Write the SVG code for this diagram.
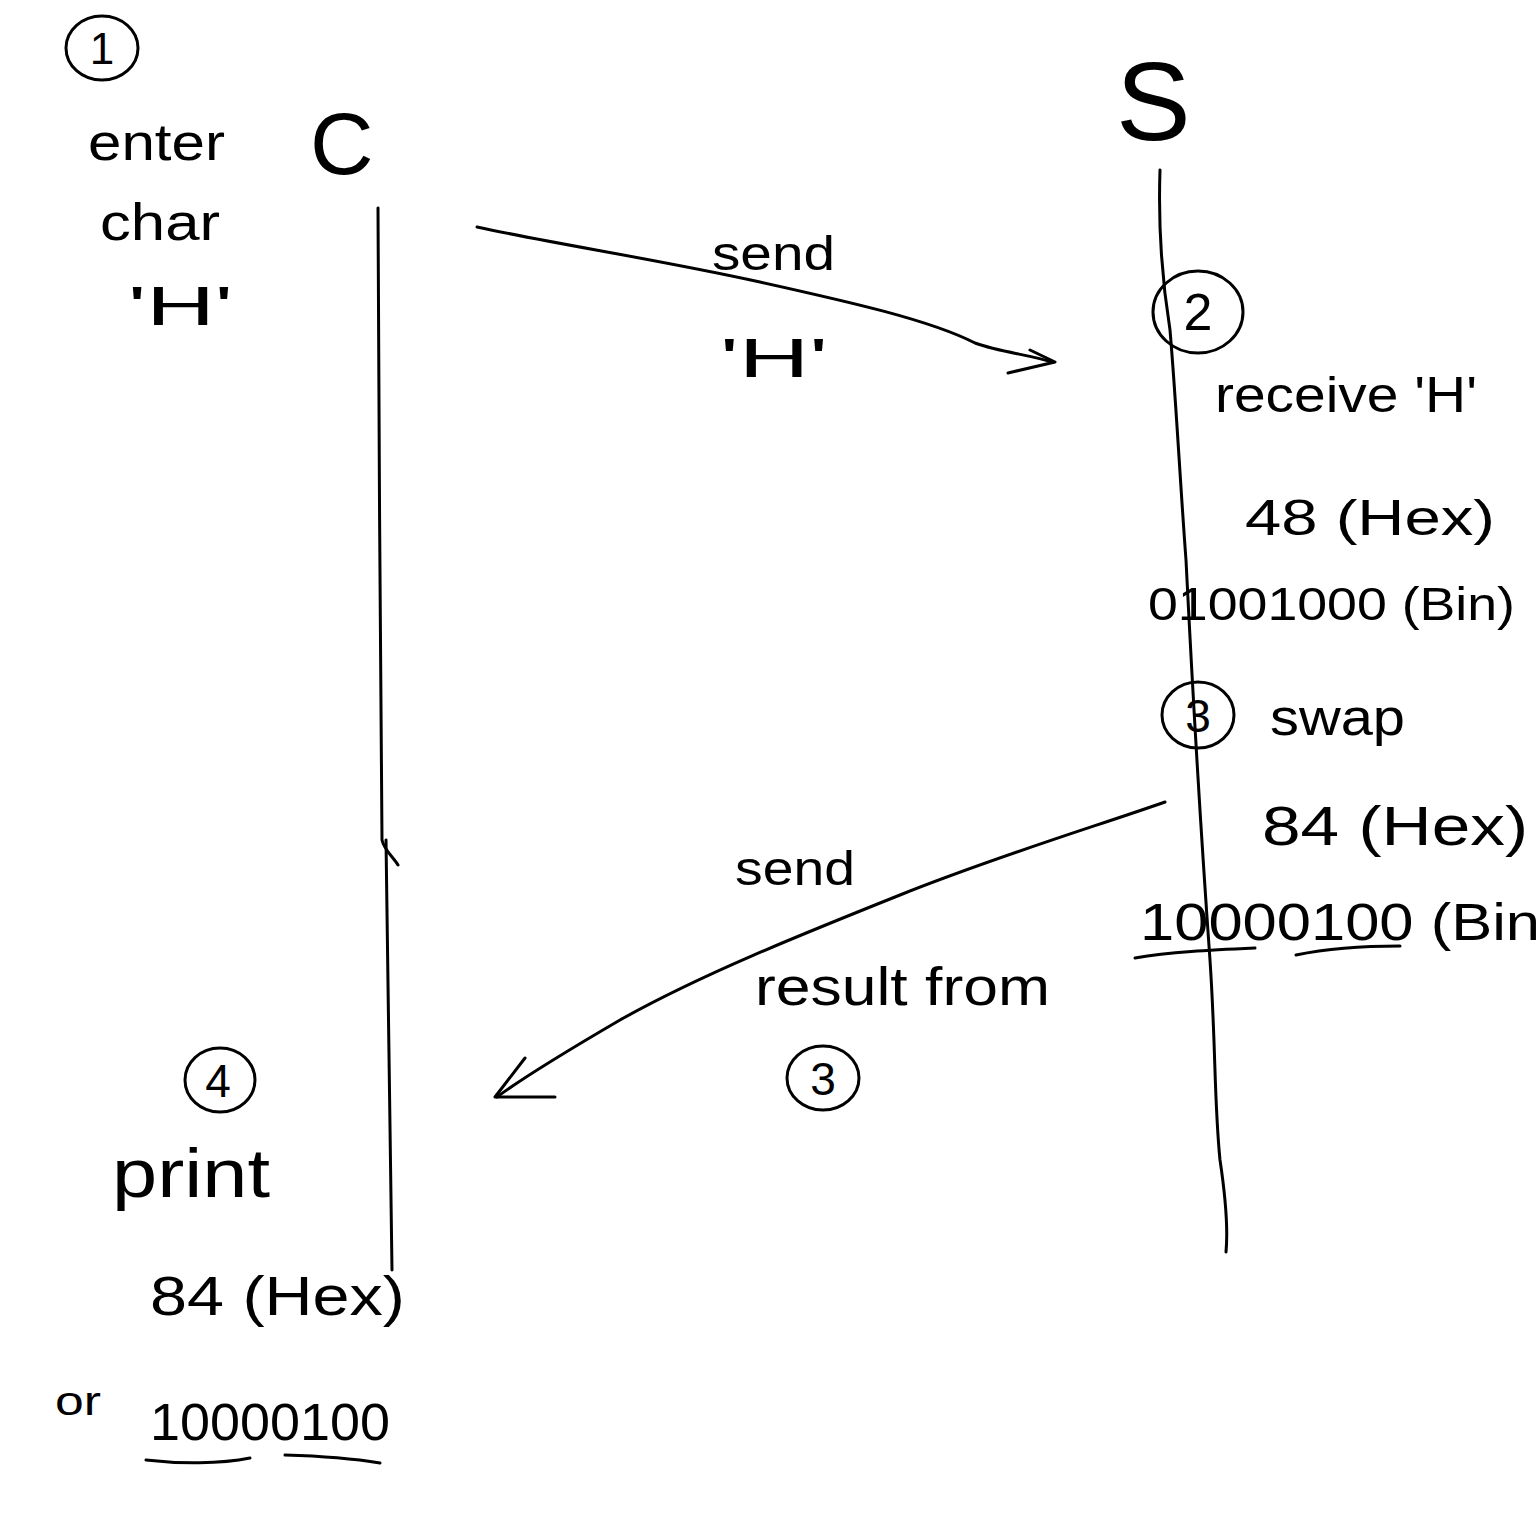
<svg xmlns="http://www.w3.org/2000/svg" width="1536" height="1528" viewBox="0 0 1536 1528">
<style>
.t{font-family:"Liberation Sans","DejaVu Sans",Arial,sans-serif;fill:#000;}
.s{fill:none;stroke:#000;stroke-width:3;stroke-linecap:round;stroke-linejoin:round;}
</style>
<rect width="1536" height="1528" fill="#fff"/>

<g id="step1">
  <ellipse class="s" cx="102" cy="48" rx="36" ry="32"/>
  <text class="t" x="102" y="64" font-size="44" text-anchor="middle">1</text>
  <text class="t" x="88" y="160" font-size="52" textLength="137" lengthAdjust="spacingAndGlyphs">enter</text>
  <text class="t" x="100" y="240" font-size="52" textLength="120" lengthAdjust="spacingAndGlyphs">char</text>
  <text class="t" x="128" y="325" font-size="56" textLength="105" lengthAdjust="spacingAndGlyphs">'H'</text>
</g>

<g id="client">
  <text class="t" x="310" y="174" font-size="88">C</text>
  <path class="s" d="M378,208 C379,400 380,650 382,840 C384,850 394,858 398,865"/>
  <path class="s" d="M386,840 C388,950 390,1100 392,1270"/>
</g>

<g id="server">
  <text class="t" x="1116" y="140" font-size="112">S</text>
  <path class="s" d="M1160,170 C1158,230 1162,280 1170,330 C1176,400 1180,480 1186,560 C1192,680 1200,820 1210,960 C1216,1050 1214,1100 1220,1160 C1226,1200 1228,1230 1226,1252"/>
</g>

<g id="step2">
  <ellipse class="s" cx="1198" cy="312" rx="45" ry="41"/>
  <text class="t" x="1198" y="330" font-size="52" text-anchor="middle">2</text>
  <text class="t" x="1215" y="412" font-size="50" textLength="262" lengthAdjust="spacingAndGlyphs">receive 'H'</text>
  <text class="t" x="1245" y="535" font-size="50" textLength="250" lengthAdjust="spacingAndGlyphs">48 (Hex)</text>
  <text class="t" x="1148" y="620" font-size="46" textLength="367" lengthAdjust="spacingAndGlyphs">01001000 (Bin)</text>
</g>

<g id="step3">
  <ellipse class="s" cx="1198" cy="715" rx="36" ry="33"/>
  <text class="t" x="1198" y="732" font-size="46" text-anchor="middle">3</text>
  <text class="t" x="1270" y="735" font-size="52" textLength="135" lengthAdjust="spacingAndGlyphs">swap</text>
  <text class="t" x="1262" y="845" font-size="56" textLength="266" lengthAdjust="spacingAndGlyphs">84 (Hex)</text>
  <text class="t" x="1140" y="940" font-size="52" textLength="400" lengthAdjust="spacingAndGlyphs">10000100 (Bin</text>
  <path class="s" d="M1135,958 C1170,952 1210,950 1255,948"/>
  <path class="s" d="M1296,955 C1330,948 1370,946 1400,946"/>
</g>

<g id="step4">
  <ellipse class="s" cx="220" cy="1080" rx="35" ry="32"/>
  <text class="t" x="218" y="1097" font-size="46" text-anchor="middle">4</text>
  <text class="t" x="112" y="1197" font-size="68" textLength="158" lengthAdjust="spacingAndGlyphs">print</text>
  <text class="t" x="150" y="1315" font-size="56" textLength="255" lengthAdjust="spacingAndGlyphs">84 (Hex)</text>
  <text class="t" x="55" y="1415" font-size="40" textLength="46" lengthAdjust="spacingAndGlyphs">or</text>
  <text class="t" x="150" y="1440" font-size="52" textLength="240" lengthAdjust="spacingAndGlyphs">10000100</text>
  <path class="s" d="M146,1460 C180,1464 220,1464 250,1458"/>
  <path class="s" d="M285,1455 C320,1456 350,1458 380,1463"/>
</g>

<g id="connectors">
  <g id="msg1">
    <path class="s" d="M477,227 C560,245 650,258 760,282 C850,302 930,320 975,343 C1000,352 1030,355 1052,362"/>
    <path class="s" d="M1030,350 L1055,362 L1008,373"/>
    <text class="t" x="712" y="270" font-size="48" textLength="123" lengthAdjust="spacingAndGlyphs">send</text>
    <text class="t" x="720" y="377" font-size="56" textLength="108" lengthAdjust="spacingAndGlyphs">'H'</text>
  </g>
  <g id="msg2">
    <path class="s" d="M1165,802 C1100,825 1000,855 900,895 C800,935 700,975 620,1020 C560,1055 520,1080 497,1097"/>
    <path class="s" d="M525,1058 L495,1097 L555,1097"/>
    <text class="t" x="735" y="885" font-size="48" textLength="120" lengthAdjust="spacingAndGlyphs">send</text>
    <text class="t" x="755" y="1005" font-size="54" textLength="295" lengthAdjust="spacingAndGlyphs">result from</text>
    <ellipse class="s" cx="823" cy="1078" rx="36" ry="32"/>
    <text class="t" x="823" y="1095" font-size="46" text-anchor="middle">3</text>
  </g>
</g>
</svg>
